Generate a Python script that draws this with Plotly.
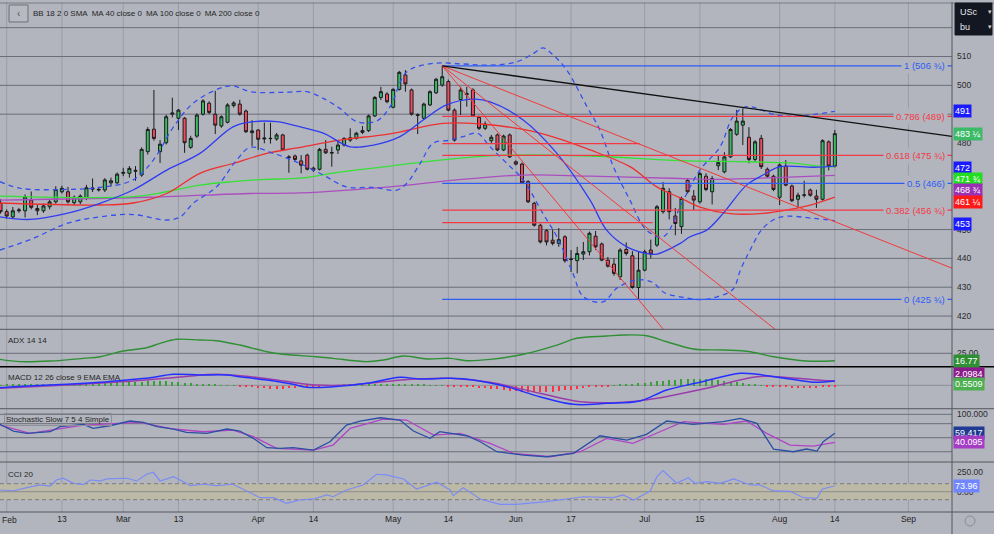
import plotly.graph_objects as go

# Colours
BG = '#b2b5be'
GRID_DARK = '#6b6e78'
GRID_LIGHT = 'rgba(110,113,124,0.35)'
UP_FILL = '#3cba68'
DOWN_FILL = '#f04b5f'
CANDLE_EDGE = '#1b1b1b'
FIB_BLUE = '#2f5cf5'
FIB_RED = '#f23a46'
FONT = 'Liberation Sans, Arial, sans-serif'

# Bar index -1 is the partly visible session before February
BAR_IDX = list(range(-1, 136))

OPEN = [
    459.1, 456.2, 454.4, 456.5, 456.5, 460.2, 456.5, 456.5, 457.9, 459.6,
    463.1, 463.1, 459.3, 459.6, 460.8, 464.0, 463.7, 463.7, 466.2, 466.2,
    469.5, 469.5, 470.2, 468.9, 477.0, 484.8, 477.0, 480.1, 490.0, 488.6,
    488.6, 478.5, 482.4, 490.0, 493.8, 490.0, 485.9, 487.2, 493.0, 493.5,
    491.1, 483.6, 484.5, 481.4, 481.5, 481.4, 482.8, 475.2, 475.5, 473.8,
    475.8, 471.3, 470.9, 477.8, 476.5, 477.6, 479.3, 481.0, 481.6, 483.7,
    484.3, 489.4, 495.8, 497.0, 492.4, 498.6, 503.6, 498.4, 489.8, 488.6,
    493.2, 497.4, 500.1, 501.3, 491.4, 495.1, 497.2, 498.4, 488.9, 485.1,
    480.8, 482.8, 477.6, 482.8, 473.5, 472.7, 466.6, 459.1, 451.5, 449.6,
    446.3, 445.2, 447.5, 439.8, 439.2, 441.5, 442.3, 447.7, 445.0, 439.4,
    438.0, 433.6, 443.1, 440.9, 429.9, 435.9, 442.9, 444.6, 456.2, 463.1,
    454.7, 451.0, 467.0, 461.6, 459.6, 468.5, 463.1, 472.1, 470.0, 475.2,
    483.0, 486.2, 482.0, 474.3, 481.6, 470.9, 468.5, 461.2, 472.0, 465.1,
    460.5, 461.9, 463.7, 461.6, 460.5, 480.4, 472.0,
]
HIGH = [
    460.5, 457.0, 457.8, 457.5, 462.2, 463.2, 458.5, 459.0, 460.5, 465.0,
    465.2, 464.8, 461.8, 462.2, 465.5, 467.7, 464.8, 467.8, 468.0, 469.8,
    471.4, 472.0, 472.0, 478.5, 485.5, 498.4, 481.0, 489.8, 495.7, 491.8,
    489.0, 482.5, 490.3, 495.2, 494.5, 498.1, 489.6, 493.8, 494.5, 495.0,
    491.6, 487.9, 484.8, 487.1, 487.0, 483.5, 483.2, 475.8, 476.0, 475.8,
    476.3, 471.8, 478.3, 481.0, 478.7, 481.0, 482.0, 485.1, 483.9, 485.9,
    489.9, 496.3, 499.5, 497.6, 499.0, 505.0, 505.3, 498.9, 490.3, 494.0,
    498.3, 502.6, 506.75, 502.0, 492.0, 499.5, 499.5, 499.0, 489.5, 487.5,
    482.8, 483.3, 482.9, 483.3, 474.0, 473.2, 467.1, 459.6, 452.0, 450.1,
    450.0, 450.5, 448.0, 442.9, 444.0, 445.7, 449.3, 449.5, 445.5, 440.5,
    440.0, 443.5, 445.5, 442.5, 442.3, 443.0, 446.5, 458.5, 466.5, 464.3,
    457.5, 461.4, 467.6, 463.7, 470.0, 469.5, 468.5, 475.8, 476.8, 485.2,
    491.5, 492.0, 485.5, 481.0, 482.8, 471.5, 469.0, 473.0, 474.1, 465.6,
    462.8, 466.9, 464.2, 463.8, 481.3, 480.9, 484.5,
]
LOW = [
    455.5, 453.8, 453.9, 455.8, 454.2, 457.0, 455.0, 455.8, 457.0, 459.0,
    462.5, 459.0, 458.5, 458.8, 460.2, 463.0, 463.2, 463.0, 465.0, 465.8,
    468.5, 468.0, 466.9, 468.3, 476.0, 480.8, 473.1, 479.5, 488.9, 484.5,
    476.6, 478.0, 481.8, 489.5, 490.0, 483.1, 485.3, 486.8, 492.3, 489.5,
    483.5, 479.0, 477.6, 479.9, 479.8, 480.8, 477.2, 469.7, 473.8, 469.5,
    470.5, 470.0, 470.5, 476.2, 471.8, 476.2, 478.8, 480.4, 481.2, 483.1,
    483.8, 489.0, 494.9, 493.8, 492.0, 498.2, 497.8, 489.5, 483.1, 488.0,
    492.8, 497.0, 499.5, 491.0, 480.5, 489.7, 492.6, 489.0, 484.5, 484.5,
    480.0, 477.2, 477.2, 474.8, 472.2, 465.8, 459.2, 451.0, 445.2, 444.5,
    444.5, 444.0, 438.5, 435.3, 434.8, 439.4, 441.0, 443.0, 439.0, 436.8,
    434.0, 432.5, 441.0, 429.5, 425.75, 435.5, 440.0, 444.0, 455.5, 453.5,
    448.0, 448.5, 462.5, 456.8, 459.0, 463.3, 458.7, 470.6, 469.5, 474.8,
    482.5, 479.3, 473.0, 473.5, 471.0, 468.0, 463.3, 458.5, 465.0, 459.5,
    457.5, 461.1, 461.4, 457.5, 460.0, 470.5, 471.5,
]
CLOSE = [
    456.2, 454.7, 456.5, 456.8, 461.3, 457.7, 457.3, 458.2, 459.6, 463.9,
    464.3, 459.6, 461.2, 461.6, 464.5, 464.4, 463.9, 467.2, 466.9, 469.2,
    469.8, 471.2, 470.5, 477.8, 484.7, 481.6, 479.6, 489.1, 490.4, 491.4,
    480.1, 481.6, 489.7, 494.6, 490.6, 486.2, 489.1, 493.2, 493.9, 490.0,
    483.9, 484.2, 481.3, 481.7, 481.6, 482.8, 477.6, 475.0, 474.3, 472.3,
    470.9, 470.6, 477.8, 476.6, 476.7, 479.3, 481.6, 481.8, 483.4, 484.3,
    489.4, 495.8, 497.8, 494.3, 498.6, 504.5, 500.5, 490.0, 489.6, 493.5,
    497.8, 502.1, 503.0, 491.4, 481.0, 498.4, 496.8, 489.4, 485.1, 486.6,
    482.0, 477.6, 482.4, 475.2, 472.7, 466.2, 459.6, 451.5, 445.7, 445.7,
    445.2, 446.5, 439.2, 439.6, 441.7, 442.3, 448.7, 444.0, 439.4, 437.3,
    434.8, 442.9, 441.7, 429.9, 435.9, 442.3, 441.5, 457.9, 464.3, 456.2,
    452.1, 460.8, 463.1, 460.2, 469.4, 463.9, 467.7, 473.2, 475.2, 484.7,
    487.6, 487.6, 474.3, 480.4, 471.8, 468.5, 463.9, 472.4, 465.4, 460.0,
    461.9, 462.0, 461.9, 460.5, 480.8, 472.0, 483.25,
]

# Bollinger Bands 18/2 and moving averages
BB_UP_X = [-1.1, 2.2, 9.8, 15.2, 20.6, 23.9, 27.2, 30.4, 34.8, 36.9,
           39.7, 45.6, 48.9, 51.6, 54.3, 57.1, 60.3, 62.5, 65.2, 69.5,
           74.4, 78.8, 83.1, 85.9, 87.4, 89.1, 91.3, 94.6, 96.7, 98.9,
           101.6, 104.3, 107.0, 110.3, 113.0, 116.3, 118.4, 120.6, 125.5, 129.3, 135]
BB_UP_Y = [466.6, 464.3, 463.9, 464.6, 467.2, 474.1, 485.6, 493.8, 499.0, 499.8,
           497.8, 497.6, 497.8, 495.5, 492.0, 487.4, 487.6, 492.6, 504.6, 507.6,
           507.4, 507.0, 508.1, 511.1, 513.0, 510.5, 505.3, 492.6, 484.5, 471.8,
           460.2, 449.8, 447.5, 460.2, 470.6, 478.7, 489.1, 492.6, 489.7, 489.4, 491.0]
BB_LO_X = [-1.1, 4.3, 9.8, 15.2, 20.6, 26.1, 28.3, 30.4, 34.2, 37.5,
           39.7, 43.5, 47.8, 51.6, 55.4, 59.7, 63.6, 65.2, 67.4, 69.5,
           72.3, 74.4, 76.7, 78.8, 81.5, 84.2, 87.4, 89.7, 92.3, 94.0,
           97.2, 99.5, 102.7, 105.2, 107.3, 110.3, 113.0, 115.7, 118.4, 119.6,
           121.2, 123.3, 126.1, 131.5, 135]
BB_LO_Y = [442.9, 446.9, 452.1, 454.4, 455.2, 453.3, 454.4, 459.1, 464.8, 474.1,
           478.5, 476.4, 472.9, 468.9, 464.8, 464.6, 463.7, 466.0, 472.9, 479.9,
           481.0, 482.2, 483.4, 478.7, 473.0, 467.2, 455.6, 447.5, 434.8, 426.7,
           424.9, 429.7, 432.5, 431.8, 428.0, 426.5, 425.7, 426.6, 429.3, 435.9,
           442.9, 450.5, 454.3, 453.9, 453.0]
BB_MID_X = [-1.1, 3.8, 9.8, 15.2, 20.6, 26.1, 31.5, 36.9, 40.2, 44.0,
            46.7, 51.6, 56.0, 59.8, 64.1, 67.9, 71.7, 76.1, 78.8, 84.2,
            89.7, 95.1, 97.8, 101.1, 104.3, 106.0, 109.8, 111.4, 114.1, 116.8,
            120.6, 123.3, 126.1, 131.5, 135]
BB_MID_Y = [454.4, 453.5, 455.6, 459.1, 463.7, 470.6, 476.4, 485.6, 487.4, 487.4,
            486.2, 483.4, 478.7, 479.3, 482.2, 488.0, 493.2, 495.2, 494.3, 488.0,
            476.4, 460.2, 449.8, 444.0, 441.7, 441.5, 445.2, 447.5, 449.8, 455.6,
            465.4, 468.9, 471.8, 471.6, 472.0]
MA40_X = [-1.1, 15.2, 20.6, 26.1, 31.5, 36.9, 42.4, 47.8, 54.3, 62.5,
          71.1, 77.2, 84.2, 89.7, 95.1, 101.6, 106.0, 109.8, 113.0, 117.9,
          123.3, 127.7, 131.0, 135]
MA40_Y = [459.2, 458.5, 459.2, 462.5, 469.5, 472.9, 476.4, 478.5, 481.0, 483.2,
          486.8, 486.6, 484.7, 481.7, 477.6, 471.8, 464.8, 461.0, 457.8, 455.5,
          455.6, 457.0, 458.5, 461.25]
MA100_X = [-1.1, 20.6, 26.1, 31.5, 36.9, 42.4, 47.8, 54.3, 62.5, 70.6,
           81.5, 95.1, 109.8, 120.7, 127.7, 132.6, 135]
MA100_Y = [461.6, 461.4, 463.1, 465.4, 466.6, 467.4, 467.8, 469.9, 472.0, 474.1,
           475.8, 475.5, 473.9, 473.5, 473.1, 472.0, 471.75]
MA200_X = [-1.1, 23.4, 39.7, 47.8, 62.5, 73.4, 84.2, 95.1, 109.8, 115.2, 122.8, 135]
MA200_Y = [460.2, 461.2, 462.5, 462.7, 464.8, 467.2, 468.9, 468.5, 467.7, 467.4, 467.8, 468.75]

# Drawings: Fibonacci retracement from the May high, fan lines, trend line
FIB_START = 71
FIB_LEVELS = [506.75, 489.25, 475.75, 466.0, 456.75, 425.75]
FIB_TEXT = ['1 (506 ¾)', '0.786 (489)', '0.618 (475 ¾)', '0.5 (466)', '0.382 (456 ¾)', '0 (425 ¾)']
FIB_IS_BLUE = [True, False, False, True, False, True]
EXTRA_LEVELS = [479.8, 452.4]
EXTRA_END = [103.2, 105.3]
FAN_X0, FAN_Y0 = 71, 506.75
FAN_END_X = [154.1, 127.0, 108.0]
FAN_END_Y = [436.6, 412.5, 413.0]
TREND_END_X, TREND_END_Y = 154.1, 482.3

# Indicator panes
ADX_X = [-1.1, 2.2, 7.1, 12.5, 15.2, 19.0, 22.8, 25.0, 27.7, 31.5,
         34.2, 38.0, 42.4, 45.1, 50.5, 53.2, 58.7, 61.4, 64.7, 68.5,
         72.3, 75.0, 78.8, 84.2, 89.7, 92.9, 97.8, 100.5, 104.3, 107.6,
         111.9, 116.8, 121.2, 125.0, 130.4, 135]
ADX_Y = [18.3, 15.7, 16.4, 19.4, 21.2, 27.6, 31.2, 36.1, 40.6, 39.8,
         39.0, 34.2, 26.8, 23.9, 21.2, 19.4, 15.7, 17.5, 22.0, 18.7,
         19.4, 16.8, 18.3, 23.9, 34.2, 41.7, 44.2, 45.4, 44.6, 37.9,
         29.8, 28.7, 26.8, 21.2, 16.4, 16.77]
MACD_X = [-1.1, 4.3, 9.8, 15.2, 19.6, 23.4, 27.2, 31.5, 35.9, 38.0,
          42.4, 46.7, 48.9, 53.2, 58.7, 64.1, 67.4, 72.3, 76.1, 81.5,
          86.9, 92.4, 97.8, 103.2, 107.6, 113.0, 119.6, 122.3, 127.7, 131.5, 135]
MACD_Y = [-1.2, -0.2, 0.5, 1.5, 2.65, 3.8, 5.5, 5.15, 5.15, 4.3,
          2.65, 0.5, -1.0, -0.7, 1.0, 4.0, 3.15, 3.5, 2.65, -0.7,
          -5.7, -9.5, -9.0, -7.85, -2.35, 1.5, 6.0, 5.5, 3.15, 1.5, 2.1]
SIG_X = [-1.1, 9.8, 20.6, 28.8, 34.2, 39.7, 45.1, 50.5, 56.0, 61.4,
         66.8, 72.3, 78.8, 86.9, 93.5, 100.5, 106.0, 114.1, 122.3, 127.7, 133.1, 135]
SIG_Y = [-1.5, 0.15, 2.15, 4.3, 5.5, 4.3, 2.15, 0.15, 0.15, 1.8,
         3.15, 3.5, 1.5, -4.0, -8.2, -8.5, -6.5, -1.5, 4.3, 3.8, 2.4, 2.2]
HIST = [
    0.3, 0.4, 0.4, 0.5, 0.5, 0.6, 0.6, 0.7, 0.7, 0.8, 0.8,
    0.9, 1.0, 1.0, 1.1, 1.2, 1.3, 1.4, 1.5, 1.6, 1.7,
    1.8, 1.9, 2.0, 2.1, 2.2, 2.2, 2.1, 1.9, 1.7, 1.5,
    1.2, 1.0, 0.8, 0.6, 0.4, 0.3, 0.2, 0.1,
    -0.3, -0.6, -0.9, -1.2, -1.4, -1.6, -1.7, -1.6, -1.4, -1.1, -0.8, -0.5,
    -0.3, -0.2, 0.1, 0.2, 0.3, 0.4, 0.5, 0.6,
    0.7, 0.8, 0.9, 1.0, 1.0, 0.9, 0.8, 0.7, 0.6, 0.5, 0.4, 0.3, 0.3, 0.2,
    -0.2, -0.4, -0.5, -0.6, -0.8, -1.0, -1.3, -1.6, -1.9, -2.2, -2.5, -2.8, -3.0, -3.2,
    -3.3, -3.3, -3.2, -3.0, -2.7, -2.4, -2.0, -1.6, -1.2, -0.9, -0.6, -0.4, -0.2,
    0.2, 0.4, 0.6, 0.9, 1.2, 1.5, 1.8, 2.1, 2.4, 2.7, 2.9, 3.1, 3.2, 3.3, 3.3,
    3.2, 3.0, 2.7, 2.4, 2.0, 1.6, 1.2, 0.8, 0.5, 0.2,
    -0.3, -0.5, -0.7, -0.9, -1.1, -1.2, -1.3, -1.2, -1.0, -0.8, -0.5, -0.3,
]
K_X = [-1.1, 1.1, 3.3, 7.1, 8.7, 12.5, 14.1, 16.8, 20.1, 22.3,
       24.5, 27.2, 29.3, 32.6, 35.9, 38.0, 40.2, 42.4, 44.6, 46.7,
       50.0, 52.7, 55.4, 57.6, 60.9, 64.1, 66.3, 69.0, 70.6, 75.0,
       77.2, 79.9, 84.2, 88.0, 92.4, 96.7, 101.1, 104.3, 107.6, 111.9,
       116.8, 119.6, 122.3, 125.0, 128.2, 130.4, 132.1, 133.1, 135]
K_Y = [78.6, 64.3, 59.4, 62.8, 73.5, 78.6, 70.1, 75.6, 85.7, 82.9,
       73.5, 68.6, 61.5, 59.4, 68.6, 64.3, 48.7, 28.6, 27.3, 28.6,
       23.6, 41.4, 77.1, 85.7, 92.7, 87.8, 64.3, 48.7, 62.8, 54.2,
       41.4, 20.0, 12.9, 9.3, 16.6, 54.2, 45.0, 57.2, 85.7, 78.6,
       84.2, 91.4, 80.7, 25.8, 20.0, 25.8, 21.5, 41.4, 59.4]
D_X = [-1.1, 3.8, 12.5, 21.7, 27.2, 32.0, 36.9, 40.2, 44.0, 50.0,
       53.2, 56.0, 61.4, 65.2, 69.6, 73.9, 78.8, 82.6, 88.6, 93.5,
       97.8, 102.1, 106.5, 110.3, 116.8, 120.6, 123.9, 127.7, 131.5, 135]
D_Y = [77.1, 59.4, 77.1, 82.9, 68.6, 62.8, 66.4, 52.1, 27.3, 23.6,
       34.3, 70.1, 89.9, 87.8, 55.7, 59.4, 38.0, 16.6, 9.3, 20.0,
       48.7, 38.0, 62.8, 84.2, 78.6, 85.7, 59.4, 34.3, 32.2, 40.1]
CCI_X = [-1.1, 1.1, 3.3, 5.4, 7.1, 8.1, 9.2, 10.9, 12.5, 13.6,
         15.2, 16.3, 19.6, 21.2, 22.8, 23.9, 25.0, 27.2, 28.8, 29.9,
         32.0, 34.2, 36.9, 39.1, 41.3, 43.5, 45.6, 47.8, 50.0, 52.2,
         53.2, 55.4, 58.1, 60.3, 61.9, 64.7, 66.8, 70.1, 72.3, 72.8,
         74.4, 77.2, 80.4, 83.1, 88.0, 94.0, 98.9, 100.5, 102.2, 104.9,
         106.0, 107.0, 109.2, 111.1, 112.2, 114.1, 116.3, 118.5, 121.2, 122.8,
         125.0, 127.7, 129.9, 132.1, 132.9, 135]
CCI_Y = [21, 12, 50, 84, 71, 146, 168, 105, 88, 146,
         134, 159, 168, 134, 218, 243, 134, 188, 125, 75,
         93, 75, 93, 9, -75, -75, -145, -104, -91, -41,
         -63, 21, 84, 218, 209, 159, 34, 118, 21, -50,
         50, -91, -158, -158, -125, -63, -75, -41, -104, 9,
         188, 263, 105, 175, 105, 125, 105, 159, 84, 84,
         9, 5, -75, -83, 30, 73.96]

# Axis labels (460/470/490 sit under the value boxes, as in the original)
TICK_IDX = [0, 9, 19, 28, 41, 50, 63, 72, 83, 92, 104, 113, 126, 135, 147]
TICK_TEXT = ['Feb', '13', 'Mar', '13', 'Apr', '14', 'May', '14', 'Jun', '17',
             'Jul', '15', 'Aug', '14', 'Sep']
PRICE_TICKS = [420, 430, 440, 450, 480, 500, 510]
GRID_LEVELS = [420, 430, 440, 450, 490, 500, 510, 520]

# Pane layout (paper fractions, bottom to top)
CCI_DOM = [0.0, 0.098]
STO_DOM = [0.098, 0.2025]
MACD_DOM = [0.2025, 0.2849]
ADX_DOM = [0.2849, 0.3582]
MAIN_DOM = [0.3582, 1.0]

fig = go.Figure()


def add_line(x, y, color, axis, width=1.3, dash='solid', shape='spline'):
    fig.add_trace(go.Scatter(
        x=x, y=y, mode='lines', yaxis=axis,
        line=dict(color=color, width=width, dash=dash, shape=shape),
        hoverinfo='skip', showlegend=False,
    ))


# 1. Moving averages and Bollinger Bands
add_line(MA200_X, MA200_Y, '#ab4fc0', 'y')
add_line(MA100_X, MA100_Y, '#36e036', 'y')
add_line(MA40_X, MA40_Y, '#ee3030', 'y')
add_line(BB_MID_X, BB_MID_Y, '#2f3cf0', 'y')
add_line(BB_UP_X, BB_UP_Y, '#3550ee', 'y', dash='5px,4px')
add_line(BB_LO_X, BB_LO_Y, '#3550ee', 'y', dash='5px,4px')

# 2. Candles
fig.add_trace(go.Candlestick(
    x=BAR_IDX, open=OPEN, high=HIGH, low=LOW, close=CLOSE,
    increasing=dict(line=dict(color=CANDLE_EDGE, width=1), fillcolor=UP_FILL),
    decreasing=dict(line=dict(color=CANDLE_EDGE, width=1), fillcolor=DOWN_FILL),
    whiskerwidth=0, showlegend=False, hoverinfo='skip', yaxis='y',
))

# 3. Drawings
for lv, blue in zip(FIB_LEVELS, FIB_IS_BLUE):
    add_line([FIB_START, 160], [lv, lv], FIB_BLUE if blue else FIB_RED, 'y',
             width=1.2, shape='linear')
for lv, end in zip(EXTRA_LEVELS, EXTRA_END):
    add_line([FIB_START, end], [lv, lv], FIB_RED, 'y', width=1.2, shape='linear')
for ex, ey in zip(FAN_END_X, FAN_END_Y):
    add_line([FAN_X0, ex], [FAN_Y0, ey], '#f03a3a', 'y', width=1.0, shape='linear')
add_line([FAN_X0, TREND_END_X], [FAN_Y0, TREND_END_Y], '#111111', 'y',
         width=1.3, shape='linear')

# 4. ADX
add_line(ADX_X, ADX_Y, '#2f8f34', 'y2', width=1.4)

# 5. MACD
fig.add_trace(go.Bar(
    x=BAR_IDX, y=HIST, yaxis='y3', width=0.18,
    marker=dict(color=['#3a9e3a' if v >= 0 else '#ff3040' for v in HIST], line_width=0),
    hoverinfo='skip', showlegend=False,
))
add_line(SIG_X, SIG_Y, '#9a3dab', 'y3', width=1.5)
add_line(MACD_X, MACD_Y, '#2430ff', 'y3', width=1.5)

# 6. Stochastic
add_line(D_X, D_Y, '#b044c4', 'y4', width=1.3, shape='linear')
add_line(K_X, K_Y, '#2b4fa3', 'y4', width=1.3, shape='linear')

# 7. CCI
add_line(CCI_X, CCI_Y, '#7b8cf5', 'y5', width=1.2, shape='linear')

# Grid, bands and pane separators
shapes = []
for t in TICK_IDX:
    shapes.append(dict(type='line', xref='x', yref='paper', x0=t, x1=t, y0=0, y1=1,
                       line=dict(color=GRID_LIGHT, width=1), layer='below'))
for lv in GRID_LEVELS:
    shapes.append(dict(type='line', xref='paper', yref='y', x0=0, x1=1, y0=lv, y1=lv,
                       line=dict(color=GRID_DARK, width=1), layer='below'))
shapes.append(dict(type='line', xref='paper', yref='y2', x0=0, x1=1, y0=25, y1=25,
                   line=dict(color=GRID_DARK, width=1), layer='below'))
shapes.append(dict(type='line', xref='paper', yref='y3', x0=0, x1=1, y0=0, y1=0,
                   line=dict(color='#8c8f98', width=1), layer='below'))
for lv in [100, 80, 50, 20]:
    shapes.append(dict(type='line', xref='paper', yref='y4', x0=0, x1=1, y0=lv, y1=lv,
                       line=dict(color=GRID_DARK, width=1), layer='below'))
shapes.append(dict(type='rect', xref='paper', yref='y5', x0=0, x1=1, y0=-100, y1=100,
                   fillcolor='#bcb9a7', line_width=0, layer='below'))
for lv in [100, -100]:
    shapes.append(dict(type='line', xref='paper', yref='y5', x0=0, x1=1, y0=lv, y1=lv,
                       line=dict(color='#7d7d7d', width=1, dash='4px,3px'), layer='below'))
shapes.append(dict(type='line', xref='paper', yref='y5', x0=0, x1=1, y0=0, y1=0,
                   line=dict(color='#8c8c8c', width=1), layer='below'))
for yy, col, w in [(MAIN_DOM[0], '#55575e', 1), (ADX_DOM[0], '#000000', 1.6),
                   (MACD_DOM[0], '#55575e', 1), (STO_DOM[0], '#55575e', 1),
                   (0.0, '#55575e', 1), (0.998, '#7a7c84', 1)]:
    shapes.append(dict(type='line', xref='paper', yref='paper', x0=0, x1=1.045,
                       y0=yy, y1=yy, line=dict(color=col, width=w)))
shapes.append(dict(type='line', xref='paper', yref='paper', x0=1, x1=1, y0=-0.05, y1=1.0,
                   line=dict(color='#55575e', width=1)))
# back button and unit box
shapes.append(dict(type='rect', xref='paper', yref='paper', x0=0.0095, x1=0.0294,
                   y0=0.9608, y1=0.9941, line=dict(color='#6e7079', width=1),
                   fillcolor='rgba(255,255,255,0.06)'))
shapes.append(dict(type='rect', xref='paper', yref='paper', x0=1.0032, x1=1.042,
                   y0=0.9353, y1=0.998, line=dict(color='#131722', width=1),
                   fillcolor='#131722'))
shapes.append(dict(type='circle', xref='paper', yref='paper', x0=1.0137, x1=1.0242,
                   y0=-0.0275, y1=-0.0078, line=dict(color='#8a8c94', width=1)))

annotations = []


def note(text, x, y, xref='paper', yref='paper', size=8, color='#262626',
         xanchor='left', **kw):
    annotations.append(dict(text=text, x=x, y=y, xref=xref, yref=yref, showarrow=False,
                            xanchor=xanchor, yanchor='middle',
                            font=dict(size=size, color=color, family=FONT), **kw))


# legends
note('‹', 0.0195, 0.9775, size=10, color='#555', xanchor='center')
note('BB 18 2 0 SMA\u2002MA 40 close 0\u2002MA 100 close 0\u2002MA 200 close 0',
     0.0326, 0.9765)
note('ADX 14 14', 0.0063, 0.3353)
note('MACD 12 26 close 9 EMA EMA', 0.0063, 0.2647)
note('Stochastic Slow 7 5 4 Simple', 0.0045, 0.1804, bordercolor='#8d9099',
     borderwidth=1, borderpad=1)
note('CCI 20', 0.0063, 0.0745)
note('USc', 1.0063, 0.9804, size=9, color='#e8e8e8')
note('bu', 1.0063, 0.951, size=9, color='#e8e8e8')
note('▾', 1.036, 0.9804, size=7, color='#cfcfcf')
note('▾', 1.036, 0.951, size=7, color='#cfcfcf')
# first month label sits right at the left edge
note('Feb', 0.0, -0.0157, size=8.5, color='#222222')

# fib labels
for lv, txt, blue in zip(FIB_LEVELS, FIB_TEXT, FIB_IS_BLUE):
    note(txt, 153.4, lv, xref='x', yref='y', size=9.5,
         color=FIB_BLUE if blue else FIB_RED, xanchor='right',
         bgcolor=BG, borderpad=2)

# last value boxes on the price scale
BOXES = [
    ('y', 491, '491', '#1a1aff', 0), ('y', 483.25, '483 ¼', UP_FILL, 0),
    ('y', 472, '472', '#1a1aff', -2), ('y', 471.75, '471 ¾', '#22dd22', -12),
    ('y', 468.75, '468 ¾', '#9c30b4', -15), ('y', 461.25, '461 ¼', '#ff1a1a', -5),
    ('y', 453, '453', '#1a1aff', -3),
    ('y2', 16.77, '16.77', '#2f8f34', 0),
    ('y3', 2.1, '2.0984', '#8b1a8b', 7), ('y3', 2.2, '0.5509', '#4caf50', -3),
    ('y4', 59.4, '59.417', '#1f3a93', 0), ('y4', 40.1, '40.095', '#a43cc4', 0),
    ('y5', 73.96, '73.96', '#6f86ff', 0),
]
for yref, val, txt, col, shift in BOXES:
    annotations.append(dict(text=txt, x=1, y=val, xref='paper', yref=yref, showarrow=False,
                            xanchor='left', yanchor='middle', xshift=1, yshift=shift,
                            bgcolor=col, borderpad=1,
                            font=dict(size=9, color='#ffffff', family=FONT)))

axis_common = dict(side='right', anchor='x', showgrid=False, zeroline=False,
                   showline=False, ticks='', fixedrange=True,
                   tickfont=dict(size=8.5, color='#2a2a2a', family=FONT),
                   ticklabelstandoff=4)

fig.update_layout(
    width=994, height=534,
    margin=dict(l=0, r=42, t=2, b=22),
    paper_bgcolor=BG, plot_bgcolor=BG,
    showlegend=False, bargap=0,
    font=dict(family=FONT),
    shapes=shapes, annotations=annotations,
    xaxis=dict(domain=[0, 1], range=[-1.09, 154.1], anchor='y5',
               tickvals=TICK_IDX[1:], ticktext=TICK_TEXT[1:], showgrid=False,
               zeroline=False, showline=False, ticks='',
               tickfont=dict(size=8.5, color='#222222', family=FONT),
               rangeslider=dict(visible=False), fixedrange=True),
    yaxis=dict(domain=MAIN_DOM, range=[415.4, 528.9], tickvals=PRICE_TICKS,
               **axis_common),
    yaxis2=dict(domain=ADX_DOM, range=[10.1, 51.7], tickvals=[25],
                ticktext=['25.00'], **axis_common),
    yaxis3=dict(domain=MACD_DOM, range=[-11.7, 9.3], showticklabels=False,
                **axis_common),
    yaxis4=dict(domain=STO_DOM, range=[-2.0, 112.0], tickvals=[100],
                ticktext=['100.000'], **axis_common),
    yaxis5=dict(domain=CCI_DOM, range=[-254, 371], tickvals=[250, 0],
                ticktext=['250.00', '0.00'], **axis_common),
)

# the page's default body margin would shift the chart by 8px
fig.write_html('out.html', config={'displayModeBar': False},
               post_script="document.body.style.margin='0';")
